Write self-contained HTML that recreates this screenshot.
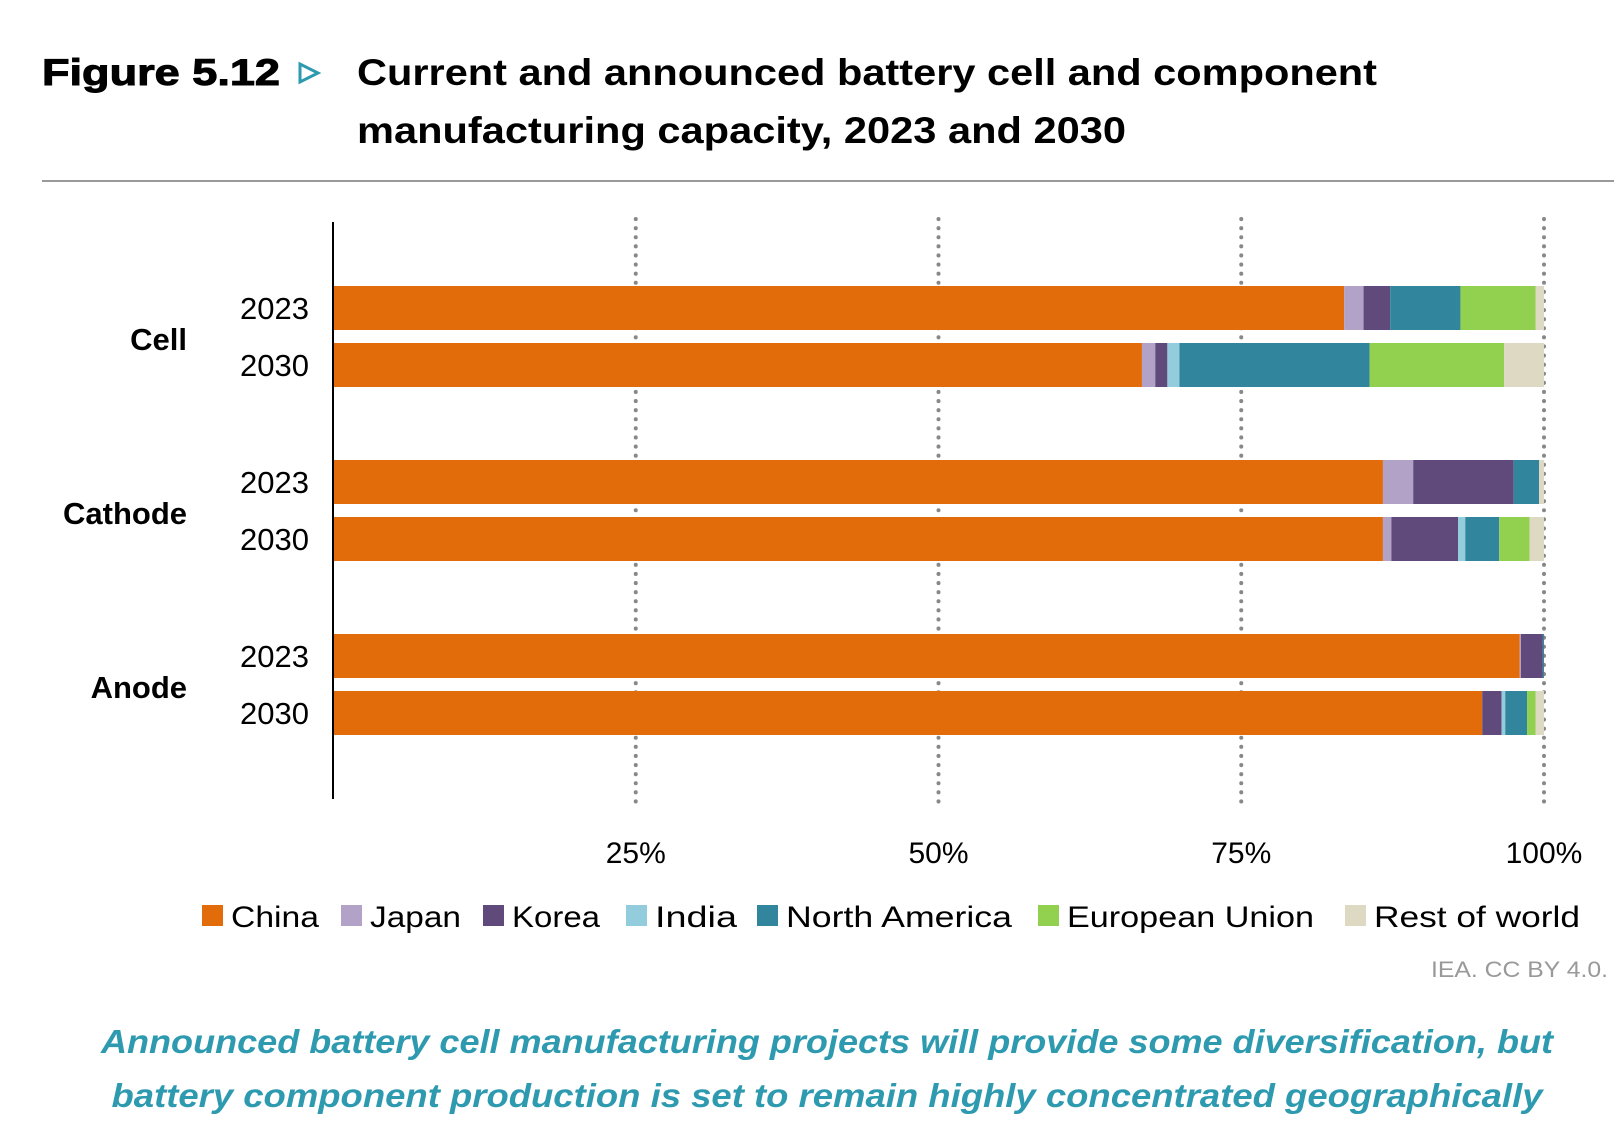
<!DOCTYPE html>
<html><head><meta charset="utf-8"><style>
html,body{margin:0;padding:0;background:#fff;}
svg{display:block;font-family:"Liberation Sans",sans-serif;}
</style></head><body>
<svg id="chart" width="1614" height="1130" viewBox="0 0 1614 1130" xmlns="http://www.w3.org/2000/svg">
<g>
<text x="42" y="85" font-size="37" font-weight="bold" stroke="#000" stroke-width="1" textLength="238" lengthAdjust="spacingAndGlyphs">Figure 5.12</text>
<polygon points="300,64 300,82 318,73" fill="none" stroke="#2E9AB0" stroke-width="3"/>
<text x="357" y="85" font-size="37" font-weight="bold" textLength="1020" lengthAdjust="spacingAndGlyphs">Current and announced battery cell and component</text>
<text x="357" y="143" font-size="37" font-weight="bold" textLength="769" lengthAdjust="spacingAndGlyphs">manufacturing capacity, 2023 and 2030</text>
</g>
<line x1="42" y1="181" x2="1614" y2="181" stroke="#999" stroke-width="2"/>
<g id="grid"></g>
<g id="bars"></g>
<line x1="333" y1="222" x2="333" y2="799" stroke="#000" stroke-width="2"/>
<g id="labels"></g>
<g id="legend"></g>
<text x="1608" y="977" font-size="22" fill="#999" text-anchor="end" textLength="177" lengthAdjust="spacingAndGlyphs">IEA. CC BY 4.0.</text>
<text x="827" y="1053" font-size="33" font-weight="bold" font-style="italic" fill="#2E9AB0" text-anchor="middle" textLength="1452" lengthAdjust="spacingAndGlyphs">Announced battery cell manufacturing projects will provide some diversification, but</text>
<text x="827" y="1107" font-size="33" font-weight="bold" font-style="italic" fill="#2E9AB0" text-anchor="middle" textLength="1431" lengthAdjust="spacingAndGlyphs">battery component production is set to remain highly concentrated geographically</text>
</svg>
<script>
const categories = ["Cell", "Cathode", "Anode"];
const years = ["2023", "2030"];
const regions = ["China", "Japan", "Korea", "India", "North America", "European Union", "Rest of world"];
const colors = ["#E36C0A", "#B3A2C7", "#604A7B", "#93CDDD", "#31859C", "#92D050", "#DDD9C3"];
const china = [83.5, 66.8, 86.7, 86.7, 98.0, 94.9];
const japan = [1.6, 1.1, 2.5, 0.7, 0.1, 0.0];
const korea = [2.2, 1.0, 8.3, 5.5, 1.8, 1.6];
const india = [0.0, 1.0, 0.0, 0.6, 0.0, 0.3];
const northAmerica = [5.8, 15.7, 2.1, 2.8, 0.1, 1.8];
const europeanUnion = [6.2, 11.1, 0.0, 2.5, 0.0, 0.7];
const restOfWorld = [0.7, 3.3, 0.4, 1.2, 0.0, 0.7];
const ticks = [25, 50, 75, 100];
const tickLabels = ["25%", "50%", "75%", "100%"];

const NS = "http://www.w3.org/2000/svg";
const x0 = 333, x100 = 1544;
function xs(v){ return x0 + (x100 - x0) * v / 100; }
const barH = 44;
function yBar(i){ const g = Math.floor(i/2), k = i%2; return 286 + g*174 + k*57; }
function mk(tag, attrs, parent){ const e=document.createElementNS(NS,tag); for(const k in attrs) e.setAttribute(k,attrs[k]); parent.appendChild(e); return e; }

const grid = document.getElementById('grid');
const labels = document.getElementById('labels');
ticks.forEach((t,i)=>{
  const l = mk('line',{x1:xs(t),x2:xs(t),y1:219,y2:802,stroke:'#888','stroke-width':4,'stroke-dasharray':'0.1 9','stroke-linecap':'round'},grid);
  
  
  const tx = mk('text',{x:xs(t),y:863,'font-size':30,'text-anchor':'middle'},labels);
  tx.textContent = tickLabels[i];
  
  
});

const series = [china, japan, korea, india, northAmerica, europeanUnion, restOfWorld];
const bars = document.getElementById('bars');
for(let i=0;i<6;i++){
  let acc = 0;
  const y = yBar(i);
  series.forEach((s,r)=>{
    const v = s[i];
    if(v>0){
      const rc = mk('rect',{x:xs(acc),y:y,width:xs(acc+v)-xs(acc),height:barH,fill:colors[r]},bars);
      
      
    }
    acc += v;
  });
  const yl = mk('text',{x:309,y:y+33,'font-size':31,'text-anchor':'end'},labels);
  yl.textContent = years[i%2];
  
  
}
categories.forEach((c,g)=>{
  const t = mk('text',{x:187,y:yBar(g*2)+64,'font-size':31,'font-weight':'bold','text-anchor':'end'},labels);
  t.textContent = c;
  
  
});

const legend = document.getElementById('legend');
const legX = [202, 341, 483, 626, 757, 1038, 1345];
const legW = [88, 91, 88, 82, 226, 247, 206];
regions.forEach((r,i)=>{
  const g = mk('g',{},legend);
  
  
  mk('rect',{x:legX[i],y:905,width:21,height:21,fill:colors[i]},g);
  const t = mk('text',{x:legX[i]+29,y:927,'font-size':30,textLength:legW[i],lengthAdjust:'spacingAndGlyphs'},g);
  t.textContent = r;
});
</script>
</body></html>
